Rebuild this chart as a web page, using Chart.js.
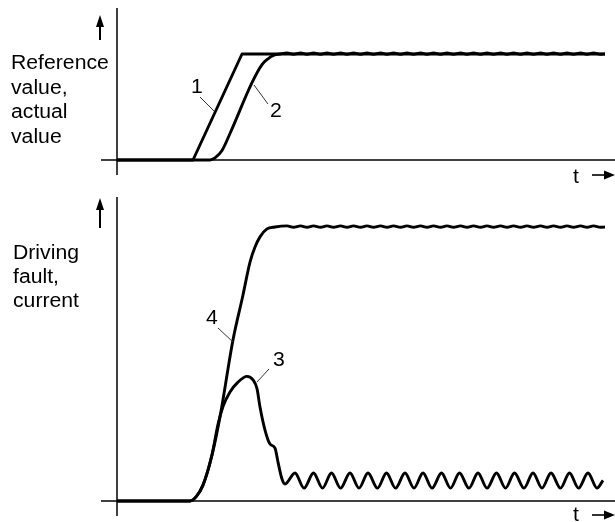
<!DOCTYPE html>
<html>
<head>
<meta charset="utf-8">
<script src="https://cdn.jsdelivr.net/npm/chart.js@4.4.0/dist/chart.umd.min.js"></script>
<style>
  html, body { margin: 0; padding: 0; background: #fff; }
  #wrap { position: relative; width: 615px; height: 522px; }
  canvas { position: absolute; left: 0; }
</style>
</head>
<body>
<div id="wrap">
  <canvas id="topChart" width="615" height="190" style="top:0"></canvas>
  <canvas id="bottomChart" width="615" height="332" style="top:190px"></canvas>
</div>
<script>
// time axis runs 0..99.6 (arbitrary units), values are normalised 0..1

// top: 1 = reference value, 2 = actual value
const refX = [0, 15.2, 25, 97.6];
const refY = [0, 0, 1, 1];

const actRiseX = [0, 18.6, 19.6, 21, 22.6, 27, 29, 30.2, 31.4, 32.6];
const actRiseY = [0, 0, 0.02, 0.09, 0.25, 0.73, 0.9, 0.955, 0.99, 1.0];

// small ripple on the settled plateaus
const plateauX = [34, 35.3, 36.7, 38, 39.3, 40.7, 42, 43.3, 44.7, 46, 47.3, 48.7,
                  50, 51.3, 52.7, 54, 55.3, 56.7, 58, 59.3, 60.7, 62, 63.3, 64.7,
                  66, 67.3, 68.7, 70, 71.3, 72.7, 74, 75.3, 76.7, 78, 79.3, 80.7,
                  82, 83.3, 84.7, 86, 87.3, 88.7, 90, 91.3, 92.7, 94, 95.3, 96.7];
const topRipple = [1.01, 0.998, 1.01, 0.998, 1.01, 0.998, 1.01, 0.998, 1.01, 0.998, 1.01, 0.998,
                   1.01, 0.998, 1.01, 0.998, 1.01, 0.998, 1.01, 0.998, 1.01, 0.998, 1.01, 0.998,
                   1.01, 0.998, 1.01, 0.998, 1.01, 0.998, 1.01, 0.998, 1.01, 0.998, 1.01, 0.998,
                   1.01, 0.998, 1.01, 0.998, 1.01, 0.998, 1.01, 0.998, 1.01, 0.998, 1.01, 0.998];
const bottomRipple = [1.004, 0.999, 1.004, 0.999, 1.004, 0.999, 1.004, 0.999, 1.004, 0.999, 1.004, 0.999,
                      1.004, 0.999, 1.004, 0.999, 1.004, 0.999, 1.004, 0.999, 1.004, 0.999, 1.004, 0.999,
                      1.004, 0.999, 1.004, 0.999, 1.004, 0.999, 1.004, 0.999, 1.004, 0.999, 1.004, 0.999,
                      1.004, 0.999, 1.004, 0.999, 1.004, 0.999, 1.004, 0.999, 1.004, 0.999, 1.004, 0.999];

// bottom: 3 = driving fault, 4 = current
const curRiseX = [0, 14.6, 15.8, 17.2, 19, 20.6, 23.2, 25.2, 26.6, 27.6, 28.6, 30, 31.6];
const curRiseY = [0, 0, 0.015, 0.058, 0.168, 0.307, 0.588, 0.752, 0.872, 0.927, 0.964, 0.993, 1.0];

const faultRiseX = [0, 14.6, 15.8, 17.2, 19, 20.2, 21.2, 22.6, 24.2, 26, 27.2, 28, 28.6,
                    29.6, 30.6, 31.6, 32.2, 33, 33.6];
const faultRiseY = [0, 0, 0.015, 0.058, 0.168, 0.28, 0.345, 0.398, 0.434, 0.455, 0.442, 0.41, 0.343,
                    0.259, 0.208, 0.193, 0.142, 0.080, 0.062];
const faultWaveX = [35.6, 37.4, 39.3, 41.1, 42.9, 44.7, 46.6, 48.4, 50.2, 52.1,
                    53.9, 55.7, 57.6, 59.4, 61.2, 63.0, 64.9, 66.7, 68.5, 70.4,
                    72.2, 74.0, 75.9, 77.7, 79.5, 81.4, 83.2, 85.0, 86.8, 88.7,
                    90.5, 92.3, 94.2, 96.0, 97.2];
const faultWaveY = [0.102, 0.047, 0.102, 0.047, 0.102, 0.047, 0.102, 0.047, 0.102, 0.047,
                    0.102, 0.047, 0.102, 0.047, 0.102, 0.047, 0.102, 0.047, 0.102, 0.047,
                    0.102, 0.047, 0.102, 0.047, 0.102, 0.047, 0.102, 0.047, 0.102, 0.047,
                    0.102, 0.047, 0.102, 0.047, 0.075];

const topLabels = ['Reference', 'value,', 'actual', 'value'];
const bottomLabels = ['Driving', 'fault,', 'current'];

function zip(xs, ys) {
    return xs.map((x, i) => ({ x: x, y: ys[i] }));
}

const FONT = '20px "Liberation Sans", Arial, Helvetica, sans-serif';

function wideText(ctx, str, x, y) {
    // the source lettering is a bit wider than Arial
    ctx.save();
    ctx.translate(x, y);
    ctx.scale(1.06, 1);
    ctx.fillText(str, 0, 0);
    ctx.restore();
}

function line(ctx, x1, y1, x2, y2) {
    ctx.beginPath();
    ctx.moveTo(x1, y1);
    ctx.lineTo(x2, y2);
    ctx.stroke();
}

// axes, arrows, captions and curve numbers; d is in page pixels
function decor(offsetY, d) {
    return {
        id: 'decor',
        afterDraw(chart) {
            const ctx = chart.ctx;
            ctx.save();
            ctx.translate(0, -offsetY);
            ctx.strokeStyle = '#000';
            ctx.fillStyle = '#000';
            ctx.lineCap = 'butt';

            // axes
            ctx.lineWidth = 1.5;
            line(ctx, d.axisX, d.axisTop, d.axisX, d.axisBottom);
            line(ctx, 101, d.baseY, 615, d.baseY);

            // value arrow
            ctx.lineWidth = 2;
            line(ctx, 100, d.arrowTail, 100, d.arrowTip + 10);
            ctx.beginPath();
            ctx.moveTo(100, d.arrowTip);
            ctx.lineTo(96, d.arrowTip + 12);
            ctx.lineTo(104, d.arrowTip + 12);
            ctx.closePath();
            ctx.fill();

            // time arrow
            ctx.lineWidth = 1.6;
            line(ctx, 592, d.tArrowY, 606, d.tArrowY);
            ctx.beginPath();
            ctx.moveTo(615, d.tArrowY);
            ctx.lineTo(604, d.tArrowY - 4.5);
            ctx.lineTo(604, d.tArrowY + 4.5);
            ctx.closePath();
            ctx.fill();

            ctx.font = FONT;
            ctx.textAlign = 'left';
            ctx.textBaseline = 'alphabetic';
            wideText(ctx, 't', 573, d.tBase);
            d.labels.forEach((s, i) => wideText(ctx, s, d.labelX, d.labelBase + i * d.labelStep));

            // curve numbers with leader lines
            ctx.lineWidth = 1;
            ctx.strokeStyle = '#333';
            d.marks.forEach(m => {
                line(ctx, m.x1, m.y1, m.x2, m.y2);
                ctx.textAlign = 'center';
                ctx.textBaseline = 'middle';
                wideText(ctx, m.text, m.cx, m.cy);
            });
            ctx.restore();
        }
    };
}

const curveStyle = {
    borderColor: '#000',
    borderWidth: 2.9,
    pointRadius: 0,
    fill: false,
    clip: false,
    borderJoinStyle: 'round',
    cubicInterpolationMode: 'monotone'
};

function baseOptions(padTop, padBottom) {
    return {
        responsive: false,
        devicePixelRatio: 1,
        animation: false,
        events: [],
        layout: { padding: { left: 117, right: 0, top: padTop, bottom: padBottom } },
        plugins: { legend: { display: false }, tooltip: { enabled: false } },
        scales: {
            x: { type: 'linear', min: 0, max: 99.6, display: false },
            y: { type: 'linear', min: 0, max: 1, display: false }
        }
    };
}

new Chart(document.getElementById('topChart'), {
    type: 'line',
    data: {
        datasets: [
            Object.assign({}, curveStyle, {
                label: '1',
                data: zip(refX, refY),
                cubicInterpolationMode: 'default',
                tension: 0
            }),
            Object.assign({}, curveStyle, {
                label: '2',
                data: zip(actRiseX.concat(plateauX, [97.6]), actRiseY.concat(topRipple, [1]))
            })
        ]
    },
    options: baseOptions(54, 30),
    plugins: [decor(0, {
        axisX: 117, axisTop: 8, axisBottom: 175, baseY: 160,
        arrowTip: 15, arrowTail: 40,
        tArrowY: 175, tBase: 183,
        labels: topLabels, labelX: 11, labelBase: 69, labelStep: 24.7,
        marks: [
            { text: '1', cx: 197, cy: 87, x1: 200, y1: 97, x2: 214, y2: 111 },
            { text: '2', cx: 276, cy: 111, x1: 254, y1: 85, x2: 268, y2: 104 }
        ]
    })]
});

new Chart(document.getElementById('bottomChart'), {
    type: 'line',
    data: {
        datasets: [
            Object.assign({}, curveStyle, {
                label: '4',
                data: zip(curRiseX.concat(plateauX, [97.6]), curRiseY.concat(bottomRipple, [1]))
            }),
            Object.assign({}, curveStyle, {
                label: '3',
                data: zip(faultRiseX.concat(faultWaveX), faultRiseY.concat(faultWaveY))
            })
        ]
    },
    options: baseOptions(37, 21),
    plugins: [decor(190, {
        axisX: 117, axisTop: 197, axisBottom: 516, baseY: 501,
        arrowTip: 198, arrowTail: 228,
        tArrowY: 515, tBase: 521,
        labels: bottomLabels, labelX: 13, labelBase: 259, labelStep: 24,
        marks: [
            { text: '4', cx: 212, cy: 318, x1: 218, y1: 328, x2: 233, y2: 342 },
            { text: '3', cx: 279, cy: 360, x1: 257, y1: 382, x2: 269, y2: 369 }
        ]
    })]
});
</script>
</body>
</html>
